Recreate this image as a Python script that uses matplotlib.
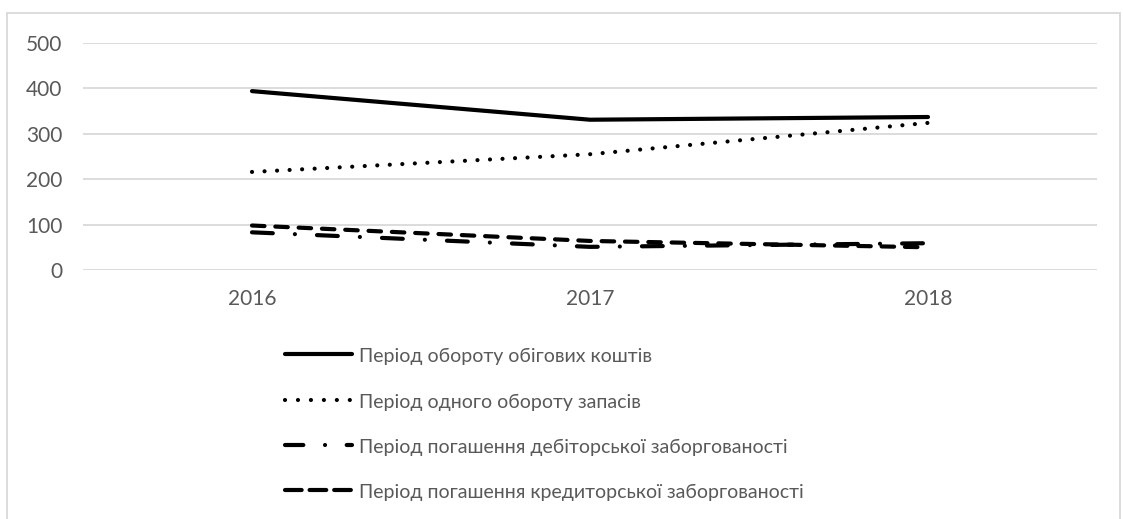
import matplotlib
matplotlib.use("Agg")
import matplotlib.pyplot as plt
from matplotlib.lines import Line2D
from matplotlib.patches import Rectangle

years = ["2016", "2017", "2018"]
turnover_current_assets = [394, 331, 337]
turnover_inventory = [216, 255, 324]
receivables_period = [83, 51, 59]
payables_period = [98, 64, 50]

labels = [
    "Період обороту обігових коштів",
    "Період одного обороту запасів",
    "Період погашення дебіторської заборгованості",
    "Період погашення кредиторської заборгованості",
]

W, H = 1123, 519
DPI = 100
fig = plt.figure(figsize=(W / DPI, H / DPI), dpi=DPI)
plt.rcParams["font.family"] = ["Lato", "DejaVu Sans"]
TXT = "#595959"
GRID = "#d9d9d9"


def fx(px):
    return px / W


def fy(py):
    return 1 - py / H


# outer chart border
fig.add_artist(Rectangle((fx(7), fy(530)), fx(1120) - fx(7), fy(13) - fy(530),
                         transform=fig.transFigure, fill=False,
                         edgecolor=GRID, linewidth=1.3))

ax = fig.add_axes([fx(83), fy(270), fx(1097) - fx(83), fy(43) - fy(270)])
x = list(range(len(years)))
lw = 3.0

styles = [
    dict(linestyle="-"),
    dict(dashes=(0.01, 3.0)),
    dict(dashes=(5.0, 5.3, 0.01, 5.3)),
    dict(dashes=(3.0, 2.6)),
]
series = [turnover_current_assets, turnover_inventory, receivables_period, payables_period]

for vals, st in zip(series, styles):
    ax.plot(x, vals, color="black", linewidth=lw, solid_capstyle="round",
            dash_capstyle="round", **st)

ax.set_xlim(-0.5, len(years) - 0.5)
ax.set_ylim(0, 500)
ax.set_yticks(range(0, 501, 100))
ax.set_xticks(x)
ax.set_xticklabels(years)
ax.grid(axis="y", color=GRID, linewidth=1.3)
ax.set_axisbelow(True)
for s in ax.spines.values():
    s.set_visible(False)
ax.tick_params(axis="both", length=0, labelsize=15, labelcolor=TXT)
ax.tick_params(axis="x", pad=14)
ax.tick_params(axis="y", pad=15)

# legend entries
legend_rows = [354, 400, 445, 490]
leg_styles = [
    dict(linestyle="-"),
    dict(dashes=(0.01, 3.1)),
    dict(dashes=(4.4, 5.2, 0.01, 5.2)),
    dict(dashes=(4.0, 1.9)),
]
for yy, lab, st in zip(legend_rows, labels, leg_styles):
    fig.add_artist(Line2D([fx(285), fx(352)], [fy(yy), fy(yy)],
                          transform=fig.transFigure, color="black", linewidth=lw,
                          solid_capstyle="round", dash_capstyle="round", **st))
    fig.text(fx(359), fy(yy + 1), lab, ha="left", va="center_baseline",
             fontsize=14, color=TXT)

fig.savefig("out.png", dpi=DPI)
